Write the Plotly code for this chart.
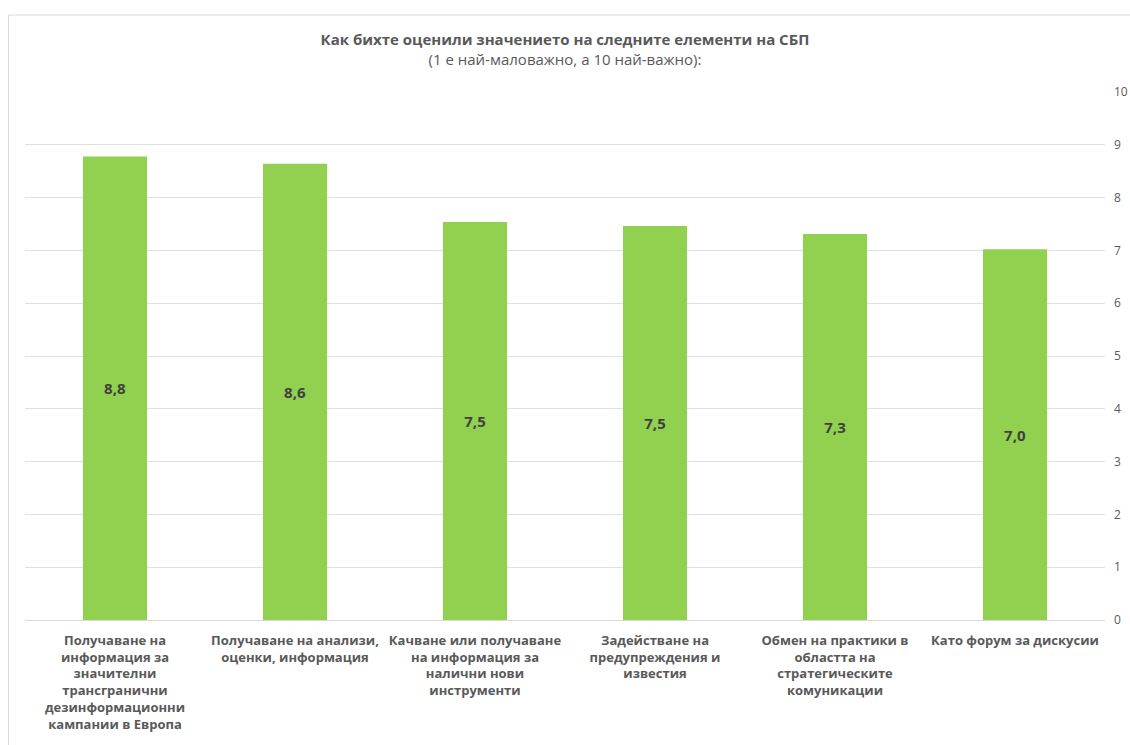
import plotly.graph_objects as go

categories = [
    "Получаване на<br>информация за<br>значителни<br>трансгранични<br>дезинформационни<br>кампании в Европа",
    "Получаване на анализи,<br>оценки, информация",
    "Качване или получаване<br>на информация за<br>налични нови<br>инструменти",
    "Задействане на<br>предупреждения и<br>известия",
    "Обмен на практики в<br>областта на<br>стратегическите<br>комуникации",
    "Като форум за дискусии",
]
values = [8.78, 8.64, 7.54, 7.46, 7.31, 7.02]
y_ticks = [0, 1, 2, 3, 4, 5, 6, 7, 8, 9, 10]

FONT = "Open Sans"

fig = go.Figure(
    go.Bar(
        x=categories,
        y=values,
        marker=dict(color="#92d050", line=dict(width=0)),
        texttemplate="%{y:.1f}",
        textposition="inside",
        insidetextanchor="middle",
        textfont=dict(family=FONT, size=15, color="#404040", weight="bold"),
        hoverinfo="skip",
    )
)

fig.update_layout(
    width=1130,
    height=745,
    margin=dict(l=25, r=25, t=92, b=125),
    paper_bgcolor="white",
    plot_bgcolor="white",
    separators=", ",
    bargap=0.644,
    showlegend=False,
    font=dict(family=FONT, color="#595959"),
    title=dict(
        text="<b>Как бихте оценили значението на следните елементи на СБП</b><br>"
             "(1 е най-маловажно, а 10 най-важно):",
        x=0.5,
        xanchor="center",
        xref="paper",
        yref="container",
        y=1 - 45 / 745,
        yanchor="top",
        font=dict(family=FONT, size=15, color="#595959"),
    ),
    xaxis=dict(
        tickfont=dict(family=FONT, size=13, color="#595959", weight="bold"),
        showgrid=False,
        showline=True,
        linecolor="#d9d9d9",
        linewidth=1,
        ticks="",
        ticklabelstandoff=8,
        automargin=False,
        fixedrange=True,
    ),
    yaxis=dict(
        side="right",
        range=[0, 10],
        tickvals=y_ticks,
        ticktext=[str(v) for v in y_ticks],
        tickfont=dict(family=FONT, size=12, color="#595959"),
        showgrid=True,
        gridcolor="#e0e0e0",
        gridwidth=1,
        zeroline=False,
        showline=False,
        ticks="",
        ticklabelstandoff=8,
        automargin=False,
        fixedrange=True,
    ),
    shapes=[
        dict(
            type="rect",
            xref="paper",
            yref="paper",
            x0=-0.0153,
            x1=1.05,
            y0=-0.3,
            y1=1.1458,
            line=dict(color="#d9d9d9", width=1),
            fillcolor="rgba(0,0,0,0)",
            layer="below",
        )
    ],
)

fig.write_html("out.html")
